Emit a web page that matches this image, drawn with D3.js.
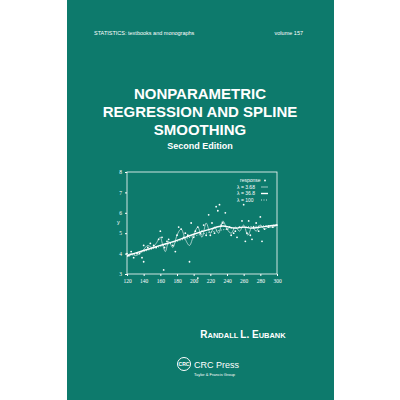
<!DOCTYPE html><html><head><meta charset="utf-8"><script src="https://cdn.jsdelivr.net/npm/d3@7"></script>
<style>body{margin:0;background:#fff}svg{display:block}</style></head><body><svg width="400" height="400"></svg><script>
const xTicks=[120,140,160,180,200,220,240,260,280,300];
const yTicks=[3,4,5,6,7,8];
const ptX=[120,122,125,128,132,135,138,140,140,145,148,152,155,158,160,162,164,165,168,170,175,178,180,182,185,188,190,193,195,197,200,202,205,208,210,212,215,218,220,222,225,227,229,231,233,235,238,240,243,245,248,250,252,255,258,260,262,264,266,268,270,272,275,278,280,282,285,290,295,300,205];
const ptY=[4.0,3.9,4.1,3.8,4.0,4.0,3.8,3.6,4.4,4.3,4.5,4.4,4.3,4.7,5.1,4.8,3.2,4.3,4.6,4.7,4.4,4.1,4.9,5.3,5.2,4.8,5.0,4.9,3.6,5.5,4.8,5.1,5.3,5.0,5.1,5.4,4.9,5.9,4.9,5.5,5.0,6.3,6.1,6.4,5.4,5.5,6.0,5.2,5.3,4.9,5.0,5.1,4.8,5.3,5.6,6.4,4.6,5.0,5.6,4.9,4.7,5.3,5.5,5.1,5.8,4.6,5.2,5.3,5.3,5.4,2.8];
const wX=[120,125,130,135,140,145,150,155,160,163,166,170,175,180,185,190,195,200,205,210,215,220,225,230,235,240,245,250,255,260,265,270,275,280,285,290,295,300];
const wY=[3.9,4.0,3.9,4.0,4.2,4.4,4.3,4.5,4.8,4.4,4.1,4.6,4.3,4.9,5.2,4.7,4.4,4.9,5.3,4.8,5.5,5.0,5.3,5.0,5.6,5.2,5.0,5.3,5.1,5.4,4.9,5.3,5.1,5.4,5.2,5.3,5.3,5.4];
const mX=[120,140,160,180,200,220,235,250,260,270,280,290,300];
const mY=[3.9,4.15,4.4,4.65,4.95,5.2,5.35,5.25,5.3,5.25,5.3,5.35,5.4];
const sX=[120,140,160,180,200,220,240,260,280,300];
const sY=[3.85,4.1,4.35,4.6,4.85,5.05,5.2,5.3,5.35,5.4];
const svg=d3.select("svg"),W="#fff",G="#0d7a6c";
svg.append("rect").attr("x",67).attr("y",0).attr("width",267).attr("height",400).attr("fill",G);
const t=(x,y,s,o={})=>svg.append("text").attr("x",x).attr("y",y).text(s).attr("fill",W).attr("font-family","Liberation Sans, Arial").attr("font-size",o.fs||6).attr("font-weight",o.fw||"normal").attr("text-anchor",o.a||"start");
t(94,35,"STATISTICS:  textbooks and monographs",{fs:5.5});
t(303,35,"volume 157",{fs:5.5,a:"end"});
t(200,99,"NONPARAMETRIC",{fs:15,fw:"bold",a:"middle"});
t(200,117,"REGRESSION AND SPLINE",{fs:15,fw:"bold",a:"middle"});
t(200,135,"SMOOTHING",{fs:15,fw:"bold",a:"middle"});
t(200,149,"Second Edition",{fs:9,fw:"bold",a:"middle"});
const au=svg.append("text").attr("x",243).attr("y",338).attr("text-anchor","middle").attr("fill",W).attr("font-family","Liberation Sans, Arial").attr("font-weight","bold").attr("font-size",10);
[["R",10],["ANDALL ",7.5],["L. E",10],["UBANK",7.5]].forEach(([s,f])=>au.append("tspan").attr("font-size",f).text(s));
svg.append("circle").attr("cx",184).attr("cy",364).attr("r",6.5).attr("fill","none").attr("stroke",W).attr("stroke-width",1);
t(184,366,"CRC",{fs:5,fw:"bold",a:"middle"});
t(194,368,"CRC Press",{fs:9});
t(194,376,"Taylor & Francis Group",{fs:4});
const x=d3.scaleLinear().domain([120,300]).range([127,277]);
const y=d3.scaleLinear().domain([3,8]).range([274,172]);
svg.append("rect").attr("x",127).attr("y",172).attr("width",150).attr("height",102).attr("fill","none").attr("stroke",W).attr("stroke-width",0.8);
const st=g=>{g.select(".domain").remove();g.selectAll("line").attr("stroke",W);g.selectAll("text").attr("fill",W).attr("font-size",5.5).attr("font-family","Liberation Serif")};
svg.append("g").attr("transform","translate(0,274)").call(d3.axisBottom(x).tickValues(xTicks).tickFormat(d3.format("d")).tickSize(2).tickSizeOuter(0)).call(st);
svg.append("g").attr("transform","translate(127,0)").call(d3.axisLeft(y).tickValues(yTicks).tickFormat(d3.format("d")).tickSize(2).tickSizeOuter(0)).call(st);
t(117,224,"y",{fs:5.5});
svg.append("g").selectAll("circle").data(ptX).join("circle").attr("cx",(d)=>x(d)).attr("cy",(d,i)=>y(ptY[i])).attr("r",0.9).attr("fill",W);
const ln=d3.line().curve(d3.curveMonotoneX);
const path=(X,Y,w,da)=>svg.append("path").attr("d",ln(X.map((v,i)=>[x(v),y(Y[i])]))).attr("fill","none").attr("stroke",W).attr("stroke-width",w).attr("stroke-dasharray",da);
path(wX,wY,0.6,null);path(mX,mY,1.4,null);path(sX,sY,0.8,"1,1.5");
const L=[["response",null],["λ = 3.68",0.6],["λ = 36.8",1.4],["λ = 100",0.8]];
L.forEach(([s,w],i)=>{const yy=182+i*6.5;t(i?237:240,yy,s,{fs:5,a:"start"});
 if(i==0)svg.append("circle").attr("cx",265).attr("cy",yy-1.5).attr("r",0.9).attr("fill",W);
 else svg.append("line").attr("x1",261).attr("x2",268).attr("y1",yy-1.5).attr("y2",yy-1.5).attr("stroke",W).attr("stroke-width",w).attr("stroke-dasharray",i==3?"1,1.5":null);});
</script></body></html>
